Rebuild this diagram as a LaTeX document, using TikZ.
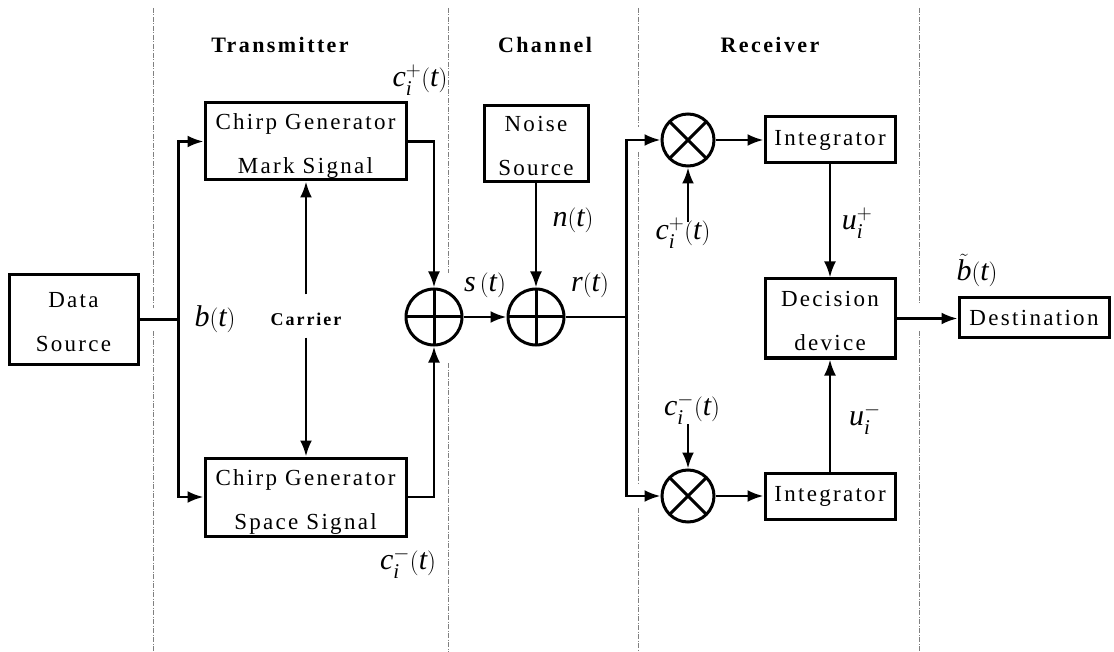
\documentclass[tikz,border=0pt]{standalone}
\usepackage{amsmath}
\usepackage{fontspec}
\setmainfont{Liberation Serif}
\newfontfamily\boxfont[LetterSpace=10]{Liberation Serif}
\newfontfamily\headfont[LetterSpace=11]{Liberation Serif}
\usepackage{tikz}
\usetikzlibrary{arrows.meta}

\begin{document}
\begin{tikzpicture}[x=1pt,y=-1pt]

      \tikzset{block/.style = {draw,line width=3pt,inner sep=0pt,align=center,font=\boxfont\fontsize{23}{44}\selectfont}}
      \tikzset{twoline/.style = {text height=70pt,text depth=6pt}}
      \tikzset{adder/.style = {draw,circle,line width=3pt,minimum size=56pt,inner sep=0pt,
          path picture={\draw[line width=3pt] (path picture bounding box.north) -- (path picture bounding box.south)
                                               (path picture bounding box.west) -- (path picture bounding box.east);}}}
      \tikzset{mixer/.style = {draw,circle,line width=3pt,minimum size=52pt,inner sep=0pt,
          path picture={\draw[line width=3pt] (path picture bounding box.north west) -- (path picture bounding box.south east)
                                               (path picture bounding box.north east) -- (path picture bounding box.south west);}}}
      \tikzset{link/.style = {->,>={Latex[length=16pt,width=12pt]},line width=2.6pt}}
      \tikzset{wire/.style = {line width=2.6pt}}
      \tikzset{sig/.style = {font=\fontsize{30}{34}\selectfont}}
      \tikzset{head/.style = {font=\headfont\bfseries\fontsize{22}{26}\selectfont}}
      \tikzset{divider/.style = {gray,line width=0.7pt,dash pattern=on 5pt off 1.5pt on 1pt off 1.5pt}}

      \useasboundingbox (0,0) rectangle (1114,652);

      % sections
      \foreach \x/\a/\b in {153/8/308, 153/331/652, 448/8/273, 448/363/652, 638/8/127, 638/152/484,
                            638/508/652, 919/8/303, 919/331/652}
        \draw[divider] (\x,\a) -- (\x,\b);
      \node[head] (tx) at (280,45) {Transmitter};
      \node[head] (ch) at (545,45) {Channel};
      \node[head] (rx) at (770,45) {Receiver};

      % blocks
      \node[block,twoline,minimum width=129pt,minimum height=89pt] (data)  at (73.5,319.5) {Data\\Source};
      \node[block,twoline,minimum width=201pt,minimum height=77pt] (mark)  at (305.5,141.5) {Chirp Generator\\Mark Signal};
      \node[block,twoline,minimum width=201pt,minimum height=78pt] (space) at (305.5,497) {Chirp Generator\\Space Signal};
      \node[block,twoline,minimum width=104pt,minimum height=73pt] (noise) at (536,143.5) {Noise\\Source};
      \node[block,minimum width=130pt,minimum height=46pt] (int1) at (830,140) {Integrator};
      \node[block,minimum width=130pt,minimum height=46pt] (int2) at (830,496) {Integrator};
      \node[block,twoline,minimum width=130pt,minimum height=79pt] (dec) at (830,318.5) {Decision\\device};
      \node[block,minimum width=150pt,minimum height=40pt] (dest) at (1034,318) {Destination};
      \node[adder] (add1) at (434,317) {};
      \node[adder] (add2) at (536,317) {};
      \node[mixer] (mul1) at (688,140) {};
      \node[mixer] (mul2) at (688,496) {};
      \node[font=\headfont\bfseries\fontsize{18}{21}\selectfont,inner sep=0pt] (carrier) at (306,319) {Carrier};

      % labels
      \node[sig] (bt)  at (215,319) {$\mathit{b}(\mathit{t})$};
      \node[sig] (cpt) at (420,80)  {$\mathit{c}_{\mathit{i}}^{+}(\mathit{t})$};
      \node[sig] (cmt) at (408,563) {$\mathit{c}_{\mathit{i}}^{-}(\mathit{t})$};
      \node[sig] (st)  at (485,285) {$\mathit{s}\,(\mathit{t})$};
      \node[sig] (nt)  at (573,220) {$\mathit{n}(\mathit{t})$};
      \node[sig] (rt)  at (590,285) {$\mathit{r}(\mathit{t})$};
      \node[sig] (cpr) at (683,233) {$\mathit{c}_{\mathit{i}}^{+}(\mathit{t})$};
      \node[sig] (cmr) at (692,409) {$\mathit{c}_{\mathit{i}}^{-}(\mathit{t})$};
      \node[sig] (up)  at (857,223) {$\mathit{u}_{\mathit{i}}^{+}$};
      \node[sig] (um)  at (865,419) {$\mathit{u}_{\mathit{i}}^{-}$};
      \node[sig] (bh)  at (977,270) {$\tilde{\mathit{b}}(\mathit{t})$};

      % connections
      \path (data.east) -- ++(39,0) coordinate (split);
      \draw[wire] (data.east) -- (split);
      \draw[link] (split) |- (mark.west);
      \draw[link] (split) |- (space.west);
      \draw[link,shorten <=18pt] (carrier.north) -- (carrier.north |- mark.south);
      \draw[link,shorten <=12pt] (carrier.south) -- (carrier.south |- space.north);
      \draw[link] (mark.east) -| (add1.north);
      \draw[link] (space.east) -| (add1.south);
      \draw[link] (add1) -- (add2);
      \draw[link] (noise.south) -- (add2.north);
      \path (add2.east) -- ++(61,0) coordinate (split2);
      \draw[wire] (add2.east) -- (split2);
      \draw[link] (split2) |- (mul1.west);
      \draw[link] (split2) |- (mul2.west);
      \draw[link,shorten <=-8pt] (cpr.north -| mul1) -- (mul1.south);
      \draw[link,shorten <=-4pt] (cmr.south -| mul2) -- (mul2.north);
      \draw[link] (mul1) -- (int1);
      \draw[link] (mul2) -- (int2);
      \draw[link] (int1) -- (dec);
      \draw[link] (int2) -- (dec);
      \draw[link] (dec.east) -- (dec.east -| dest.west);

\end{tikzpicture}
\end{document}
